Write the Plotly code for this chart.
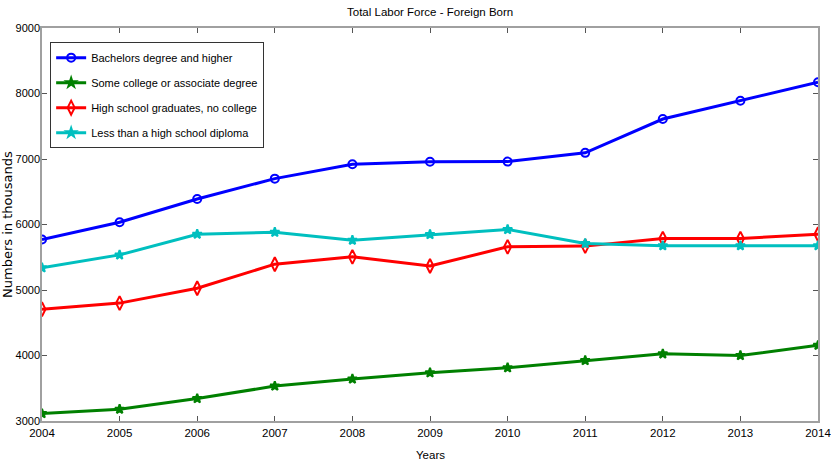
import plotly.graph_objects as go

years = [2004, 2005, 2006, 2007, 2008, 2009, 2010, 2011, 2012, 2013, 2014]
bachelors = [5770, 6035, 6390, 6700, 6920, 6958, 6960, 7094, 7610, 7890, 8172]
some_college = [3113, 3180, 3342, 3533, 3640, 3737, 3813, 3924, 4025, 4000, 4155]
high_school = [4707, 4800, 5027, 5394, 5506, 5367, 5659, 5670, 5785, 5785, 5852]
less_than_hs = [5339, 5536, 5852, 5882, 5760, 5847, 5924, 5710, 5676, 5676, 5676]

series_names = [
    "Bachelors degree and higher",
    "Some college or associate degree",
    "High school graduates, no college",
    "Less than a high school diploma",
]
y_ticks = [3000, 4000, 5000, 6000, 7000, 8000, 9000]

FONT = "Liberation Sans Narrow, Arial Narrow, Liberation Sans, Arial, sans-serif"

styles = [
    dict(color="#0000ff", symbol="circle-open", size=8),
    dict(color="#008000", symbol="star", size=7),
    dict(color="#ff0000", symbol="diamond-tall-open", size=10),
    dict(color="#00bfbf", symbol="star", size=7),
]

fig = go.Figure()
for i, (name, vals) in enumerate(zip(series_names, [bachelors, some_college, high_school, less_than_hs])):
    st = styles[i]
    fig.add_trace(go.Scatter(
        x=years, y=vals, name=name, mode="lines+markers",
        legendgroup=f"g{i}",
        line=dict(color=st["color"], width=3),
        marker=dict(symbol=st["symbol"], size=st["size"], color=st["color"],
                    line=dict(color=st["color"], width=2)),
    ))

axis_common = dict(
    showgrid=False, zeroline=False, showline=True, linecolor="#a0a0a0", linewidth=1.5,
    mirror="ticks", ticks="inside", ticklen=5, tickcolor="#555555", tickwidth=1,
    automargin=False, ticklabeloverflow="allow",
)

fig.update_layout(
    width=831, height=466,
    margin=dict(l=42, r=13, t=28, b=45, autoexpand=False),
    paper_bgcolor="white", plot_bgcolor="white",
    xaxis=dict(range=[2004, 2014], tickvals=years, ticktext=[str(y) for y in years],
               tickfont=dict(family=FONT, size=11.5, color="black"), **axis_common),
    yaxis=dict(range=[3000, 9000], tickvals=y_ticks, ticktext=[str(v) for v in y_ticks],
               tickfont=dict(family=FONT, size=11, color="black"), ticklabelstandoff=-2,
               **axis_common),
    legend=dict(x=0.0105, y=0.964, xanchor="left", yanchor="top",
                bordercolor="#333333", borderwidth=1, bgcolor="white",
                font=dict(family=FONT, size=11, color="black"),
                traceorder="grouped", tracegroupgap=6),
    showlegend=True,
    annotations=[
        dict(text="Total Labor Force - Foreign Born", xref="paper", yref="paper",
             x=0.5, y=1.0407, xanchor="center", yanchor="middle", showarrow=False,
             font=dict(family=FONT, size=11.5, color="black")),
        dict(text="Years", xref="paper", yref="paper",
             x=0.5, y=-0.0865, xanchor="center", yanchor="middle", showarrow=False,
             font=dict(family=FONT, size=11.5, color="black")),
        dict(text="Numbers in thousands", xref="paper", yref="paper",
             x=-0.0445, y=0.5, xanchor="center", yanchor="middle", showarrow=False,
             textangle=-90, font=dict(family="DejaVu Sans", size=13, color="black")),
    ],
)

fig.write_html("out.html", config={"displayModeBar": False},
               post_script="document.body.style.margin='0';")
